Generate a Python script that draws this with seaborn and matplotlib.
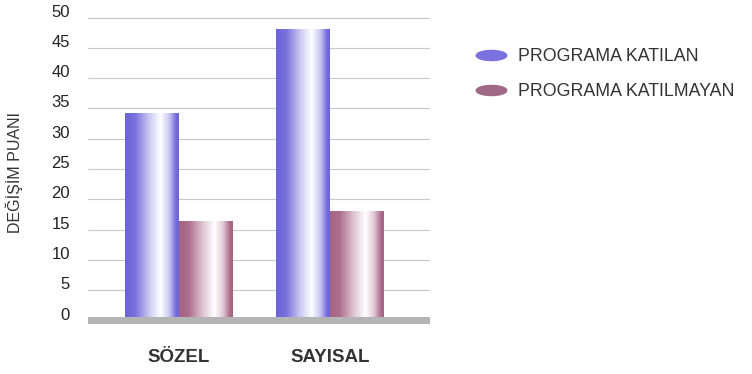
import numpy as np
import pandas as pd
import seaborn as sns
import matplotlib.pyplot as plt
from matplotlib.colors import to_rgb
from matplotlib.lines import Line2D
from matplotlib.transforms import ScaledTranslation

# values
categories = ['SÖZEL', 'SAYISAL']
groups = ['PROGRAMA KATILAN', 'PROGRAMA KATILMAYAN']
katilan = [34.2, 48.0]
katilmayan = [16.4, 18.0]
yticks = [0, 5, 10, 15, 20, 25, 30, 35, 40, 45, 50]

df = pd.DataFrame({
    'kategori': categories * 2,
    'grup': [groups[0]] * 2 + [groups[1]] * 2,
    'puan': katilan + katilmayan,
})

dark = {groups[0]: '#6b63d9', groups[1]: '#a66283'}
legend_col = {groups[0]: '#7b72e0', groups[1]: '#a06a86'}

sns.set_style('white')
plt.rcParams['font.family'] = ['Liberation Sans', 'DejaVu Sans']

fig = plt.figure(figsize=(7.52, 3.74), dpi=100)
ax = fig.add_axes([88 / 752, 1 - 324.1 / 374, (430 - 88) / 752, (324.1 - 15.7) / 374])

sns.barplot(data=df, x='kategori', y='puan', hue='grup', order=categories,
            hue_order=groups, palette=dark, width=0.71, gap=0, ax=ax,
            legend=False, zorder=3, linewidth=0)

# horizontal gradient on each bar (dark -> white -> dark)
def gradient(c):
    c = np.array(to_rgb(c))
    w = np.ones(3)
    stops = [0, 0.18, 0.45, 0.66, 0.82, 0.95, 1]
    mix = [0, 0.08, 0.65, 1.0, 0.65, 0.05, 0]
    xs = np.linspace(0, 1, 200)
    m = np.interp(xs, stops, mix)
    img = c[None, :] * (1 - m[:, None]) + w[None, :] * m[:, None]
    return img[None, :, :]

for bars, g in zip(ax.containers, groups):
    for p in bars:
        x0, y0 = p.get_x(), p.get_y()
        w, h = p.get_width(), p.get_height()
        p.set_facecolor('none')
        ax.imshow(gradient(dark[g]), extent=[x0, x0 + w, 0.6, y0 + h],
                  aspect='auto', zorder=3, interpolation='bilinear')
ax.set_xlim(-0.6, 1.66)
ax.set_ylim(-0.6, 50.3)

# floor
ax.axhspan(-0.6, 0.6, color='#b4b4b4', zorder=4, lw=0)

ax.set_yticks(yticks)
ax.yaxis.grid(True, color='#c8c8c8', lw=0.8, zorder=0)
ax.tick_params(axis='y', length=0, pad=13, labelsize=12, labelcolor='#222222')
ax.tick_params(axis='x', length=0, pad=18, labelsize=13.5)
for lab in ax.get_xticklabels():
    lab.set_fontweight('bold')
    lab.set_color('#333333')
for lab in ax.get_yticklabels():
    lab.set_transform(lab.get_transform() + ScaledTranslation(0, 5 / 72, fig.dpi_scale_trans))
sns.despine(ax=ax, left=True, bottom=True, top=True, right=True)
ax.set_xlabel('')
ax.set_ylabel('DEĞİŞİM PUANI', fontsize=11.5, color='#333333')
ax.yaxis.set_label_coords(-0.19, 0.49)

# legend with flat ellipse markers
t = np.linspace(0, 2 * np.pi, 60)
ellipse = list(zip(np.cos(t), 0.33 * np.sin(t)))
handles = [Line2D([], [], ls='', marker=ellipse, markersize=22,
                  markerfacecolor=legend_col[g], markeredgecolor=legend_col[g])
           for g in groups]
fig.legend(handles, groups, loc='upper left', bbox_to_anchor=(466 / 752, 1 - 41 / 374),
           frameon=False, fontsize=12.8, labelspacing=1.0, handletextpad=0.55,
           labelcolor='#333333', borderaxespad=0)

fig.savefig('out.png', dpi=100)
